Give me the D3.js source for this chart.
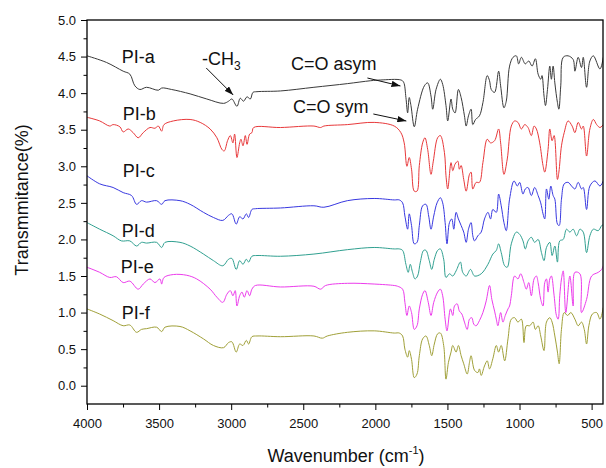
<!DOCTYPE html>
<html><head><meta charset="utf-8">
<script src="https://cdn.jsdelivr.net/npm/d3@7"></script>
<style>
body{margin:0;background:#fff}
text{font-family:Arial,"Liberation Sans",Helvetica,sans-serif}
</style></head>
<body><svg id="chart" width="606" height="468"></svg>
<script>
// ---- data: [wavenumber (cm-1), transmittance] ----
const piA = [[4000,4.51],[3865,4.42],[3749,4.30],[3703,4.26],[3668,4.10],[3633,4.05],[3587,4.08],[3505,4.04],[3482,4.07],[3413,4.05],[3285,3.99],[3169,3.92],[3053,3.86],[3018,3.89],[2995,3.92],[2960,3.82],[2937,3.93],[2914,3.89],[2890,3.95],[2867,3.92],[2849,4.01],[2821,4.02],[2658,4.03],[2426,4.08],[2194,4.13],[2032,4.17],[1962,4.18],[1823,4.18],[1804,4.15],[1788,3.94],[1776,3.73],[1765,3.94],[1753,3.83],[1730,3.54],[1707,3.78],[1660,4.10],[1637,4.14],[1614,3.96],[1602,3.78],[1579,4.05],[1549,4.19],[1533,4.12],[1510,3.83],[1498,3.62],[1475,3.92],[1463,3.78],[1447,3.73],[1424,4.05],[1405,3.94],[1382,3.69],[1370,3.55],[1354,3.69],[1336,3.78],[1324,3.57],[1305,3.64],[1278,3.69],[1254,3.87],[1224,4.24],[1208,4.17],[1196,4.05],[1173,4.01],[1145,4.30],[1131,4.10],[1108,3.80],[1092,3.89],[1069,4.37],[1045,4.49],[1022,4.51],[1006,4.40],[987,4.49],[960,4.40],[936,4.44],[913,4.37],[890,4.47],[871,4.26],[853,4.19],[844,4.24],[830,3.96],[820,3.83],[806,4.05],[790,4.37],[779,4.19],[767,4.37],[755,4.14],[737,3.87],[727,3.78],[714,4.10],[697,4.49],[663,4.51],[628,4.46],[616,4.30],[593,4.49],[570,4.35],[558,4.49],[535,4.08],[512,4.44],[488,4.51],[442,4.33],[419,4.49]];

const piB = [[4000,3.67],[3912,3.62],[3842,3.55],[3819,3.57],[3772,3.54],[3749,3.47],[3714,3.51],[3680,3.46],[3645,3.39],[3610,3.46],[3563,3.53],[3529,3.52],[3505,3.55],[3482,3.48],[3466,3.57],[3401,3.62],[3285,3.64],[3215,3.60],[3146,3.51],[3099,3.39],[3064,3.23],[3048,3.21],[3025,3.35],[3006,3.42],[2988,3.32],[2976,3.44],[2960,3.12],[2941,3.32],[2932,3.37],[2918,3.28],[2902,3.42],[2890,3.30],[2872,3.44],[2856,3.46],[2844,3.53],[2658,3.53],[2426,3.55],[2380,3.53],[2357,3.55],[2194,3.57],[2008,3.60],[1869,3.55],[1823,3.46],[1800,3.32],[1781,3.00],[1765,3.12],[1749,2.96],[1730,2.66],[1711,2.66],[1695,3.01],[1672,3.32],[1656,3.39],[1637,3.23],[1614,2.89],[1598,3.07],[1568,3.39],[1549,3.42],[1521,3.19],[1510,2.87],[1498,2.69],[1475,3.05],[1463,2.94],[1447,3.03],[1428,3.07],[1417,2.96],[1405,3.01],[1387,2.82],[1370,2.66],[1347,2.89],[1336,2.92],[1324,2.69],[1301,2.78],[1278,2.78],[1254,3.05],[1224,3.37],[1201,3.32],[1173,3.35],[1145,3.51],[1131,3.32],[1108,2.89],[1085,3.10],[1057,3.55],[1034,3.62],[1011,3.60],[987,3.51],[964,3.57],[941,3.53],[918,3.42],[899,3.55],[883,3.51],[860,3.32],[837,3.01],[825,2.92],[802,3.23],[790,3.51],[774,3.35],[760,3.42],[737,2.82],[727,2.92],[709,3.28],[690,3.46],[663,3.62],[635,3.55],[616,3.46],[593,3.60],[570,3.51],[558,3.55],[535,3.14],[512,3.51],[488,3.64],[465,3.57],[442,3.53],[419,3.57]];

const piC = [[4000,2.87],[3912,2.76],[3819,2.71],[3749,2.64],[3691,2.60],[3656,2.48],[3622,2.53],[3587,2.51],[3517,2.53],[3482,2.48],[3459,2.53],[3355,2.53],[3285,2.48],[3192,2.37],[3123,2.30],[3058,2.26],[3018,2.33],[2995,2.35],[2965,2.21],[2941,2.31],[2918,2.28],[2895,2.35],[2879,2.30],[2856,2.41],[2832,2.42],[2658,2.43],[2426,2.46],[2357,2.44],[2194,2.53],[2008,2.56],[1869,2.54],[1834,2.54],[1811,2.50],[1795,2.32],[1776,2.14],[1765,2.35],[1749,2.19],[1730,1.94],[1711,1.96],[1695,2.19],[1672,2.46],[1649,2.48],[1630,2.32],[1614,2.14],[1595,2.32],[1572,2.50],[1549,2.57],[1533,2.50],[1516,2.23],[1503,1.94],[1486,2.23],[1470,2.28],[1456,2.14],[1440,2.37],[1424,2.28],[1405,2.19],[1387,2.10],[1370,1.96],[1354,2.14],[1336,2.23],[1324,2.05],[1312,1.98],[1289,2.05],[1266,2.10],[1243,2.28],[1219,2.37],[1201,2.28],[1185,2.41],[1161,2.37],[1145,2.62],[1127,2.46],[1108,2.23],[1092,2.12],[1069,2.55],[1038,2.80],[1015,2.73],[999,2.78],[976,2.62],[960,2.69],[941,2.71],[918,2.60],[895,2.71],[871,2.60],[853,2.50],[837,2.35],[825,2.28],[813,2.69],[797,2.55],[783,2.73],[767,2.60],[755,2.55],[737,2.21],[725,2.19],[709,2.55],[690,2.76],[663,2.78],[639,2.73],[616,2.69],[593,2.78],[570,2.69],[558,2.71],[535,2.41],[512,2.73],[477,2.80],[442,2.73],[419,2.80]];

const piD = [[4000,2.23],[3912,2.14],[3819,2.05],[3761,1.98],[3703,1.98],[3656,1.91],[3622,1.96],[3587,1.95],[3517,1.96],[3482,1.89],[3459,1.96],[3355,1.96],[3285,1.91],[3192,1.80],[3123,1.71],[3058,1.64],[3018,1.73],[2995,1.74],[2965,1.59],[2941,1.71],[2918,1.66],[2895,1.73],[2879,1.69],[2856,1.77],[2821,1.78],[2658,1.77],[2426,1.80],[2194,1.86],[2008,1.89],[1869,1.87],[1834,1.87],[1811,1.85],[1788,1.66],[1772,1.55],[1758,1.66],[1742,1.55],[1725,1.46],[1707,1.50],[1688,1.69],[1665,1.85],[1649,1.85],[1626,1.71],[1609,1.59],[1591,1.73],[1568,1.85],[1549,1.87],[1526,1.73],[1510,1.48],[1486,1.53],[1463,1.50],[1440,1.57],[1410,1.69],[1394,1.55],[1370,1.50],[1340,1.59],[1312,1.50],[1266,1.53],[1219,1.66],[1185,1.80],[1161,1.85],[1145,1.94],[1127,1.82],[1103,1.64],[1085,1.62],[1057,1.94],[1022,2.10],[999,2.07],[976,1.98],[960,1.87],[941,1.98],[918,2.03],[895,1.96],[871,2.00],[848,1.82],[830,1.71],[813,1.89],[790,1.96],[774,1.78],[755,1.91],[737,1.69],[721,1.98],[697,2.00],[674,2.14],[651,2.10],[628,2.14],[604,2.05],[581,2.14],[558,2.10],[535,1.82],[512,2.05],[488,2.14],[454,2.12],[430,2.19],[419,2.20]];

const piE = [[4000,1.62],[3912,1.55],[3842,1.48],[3796,1.49],[3749,1.41],[3703,1.43],[3645,1.32],[3610,1.39],[3563,1.46],[3529,1.41],[3494,1.46],[3482,1.39],[3466,1.48],[3401,1.52],[3308,1.51],[3239,1.46],[3146,1.32],[3099,1.21],[3058,1.14],[3030,1.25],[3006,1.30],[2988,1.23],[2972,1.30],[2960,1.09],[2941,1.23],[2925,1.28],[2909,1.21],[2890,1.30],[2872,1.23],[2856,1.32],[2832,1.37],[2658,1.35],[2426,1.36],[2380,1.32],[2345,1.37],[2194,1.40],[2008,1.39],[1869,1.37],[1846,1.36],[1811,1.32],[1795,1.14],[1781,0.96],[1765,1.09],[1749,1.00],[1730,0.77],[1711,0.82],[1695,1.05],[1672,1.25],[1656,1.30],[1633,1.14],[1614,0.96],[1595,1.14],[1568,1.28],[1549,1.32],[1533,1.23],[1516,0.91],[1503,0.75],[1479,1.05],[1463,0.96],[1451,1.09],[1433,1.12],[1417,1.02],[1400,0.98],[1382,0.87],[1363,0.77],[1347,0.91],[1331,0.93],[1317,0.84],[1301,0.82],[1278,0.89],[1254,1.00],[1231,1.16],[1208,1.37],[1192,1.18],[1173,1.02],[1161,0.91],[1150,0.82],[1131,1.00],[1115,0.87],[1099,0.96],[1080,1.05],[1069,1.09],[1057,1.23],[1034,1.50],[1011,1.46],[992,1.53],[969,1.41],[953,1.32],[936,1.41],[918,1.23],[899,1.46],[883,1.50],[871,1.41],[853,1.18],[837,1.09],[825,1.41],[813,1.46],[802,1.28],[790,1.46],[779,1.50],[760,1.23],[744,0.96],[732,0.91],[721,1.23],[709,1.46],[697,1.57],[679,1.00],[651,1.50],[628,1.09],[616,1.55],[581,1.53],[570,1.00],[535,1.18],[500,1.50],[454,1.55],[430,1.59],[412,1.68]];

const piF = [[4000,1.05],[3912,0.98],[3819,0.89],[3749,0.82],[3703,0.83],[3656,0.73],[3622,0.77],[3587,0.78],[3517,0.80],[3482,0.74],[3459,0.80],[3355,0.81],[3285,0.75],[3192,0.64],[3123,0.55],[3053,0.52],[3018,0.59],[2995,0.60],[2965,0.46],[2941,0.57],[2918,0.55],[2895,0.62],[2879,0.57],[2856,0.67],[2821,0.68],[2658,0.67],[2426,0.68],[2368,0.65],[2333,0.68],[2194,0.73],[2008,0.75],[1869,0.72],[1834,0.72],[1811,0.68],[1795,0.50],[1776,0.39],[1765,0.48],[1749,0.36],[1730,0.11],[1711,0.16],[1695,0.41],[1672,0.64],[1649,0.68],[1626,0.55],[1609,0.41],[1591,0.57],[1568,0.71],[1549,0.72],[1526,0.55],[1510,0.09],[1493,0.32],[1475,0.46],[1463,0.55],[1440,0.46],[1424,0.55],[1405,0.41],[1387,0.30],[1363,0.16],[1347,0.32],[1336,0.41],[1312,0.21],[1289,0.18],[1278,0.23],[1266,0.14],[1243,0.27],[1224,0.34],[1208,0.23],[1185,0.37],[1161,0.55],[1145,0.46],[1127,0.55],[1103,0.34],[1080,0.64],[1057,0.91],[1034,0.93],[1011,0.87],[987,0.91],[969,0.59],[953,0.82],[929,0.82],[906,0.87],[890,0.77],[871,0.82],[853,0.68],[830,0.48],[813,0.87],[790,0.93],[774,0.87],[755,0.68],[737,0.46],[725,0.30],[709,0.77],[690,1.00],[667,0.96],[644,1.00],[616,0.91],[593,0.82],[570,0.87],[551,0.77],[535,0.57],[519,0.82],[495,0.98],[465,1.00],[442,0.91],[419,1.07]];

const seriesNames = ["PI-a","PI-b","PI-c","PI-d","PI-e","PI-f"];
const seriesData = [piA, piB, piC, piD, piE, piF];
const seriesColors = ["#3a3a3a","#e8383a","#3838e0","#30a090","#ec3cec","#a0a038"];

const xTicks = [4000,3500,3000,2500,2000,1500,1000,500];
const xMinorTicks = [3750,3250,2750,2250,1750,1250,750];
const yTicks = [0,0.5,1,1.5,2,2.5,3,3.5,4,4.5,5];
const yMinorTicks = [0.25,0.75,1.25,1.75,2.25,2.75,3.25,3.75,4.25,4.75];

const xTitle = "Wavenumber (cm";
const yTitle = "Transmmitance(%)";

// ---- layout ----
const svg = d3.select("#chart");
const L = 87, R = 603, T = 20, B = 404;
const x = d3.scaleLinear().domain([4000, 421]).range([L, R]);
const y = d3.scaleLinear().domain([-0.25, 5]).range([B, T]);

svg.append("rect").attr("width",606).attr("height",468).attr("fill","#fff");

svg.append("defs").append("clipPath").attr("id","clip")
  .append("rect").attr("x",L).attr("y",T).attr("width",R-L).attr("height",B-T);

// curves
const line = d3.line().x(d => x(d[0])).y(d => y(d[1])).curve(d3.curveCatmullRom.alpha(0.5));
const g = svg.append("g").attr("clip-path","url(#clip)");
seriesData.forEach((s,i) => {
  g.append("path").datum(s).attr("d", line)
    .attr("fill","none").attr("stroke", seriesColors[i])
    .attr("stroke-width",1).attr("stroke-linejoin","round");
});

// axes
const fmtY = d3.format(".1f");
svg.append("g").attr("transform",`translate(0,${B})`)
  .call(d3.axisBottom(x).tickValues(xTicks).tickSize(6).tickPadding(9).tickSizeOuter(0).tickFormat(d3.format("d")));
svg.append("g").attr("transform",`translate(0,${B})`)
  .call(d3.axisBottom(x).tickValues(xMinorTicks).tickSize(3.5).tickSizeOuter(0).tickFormat(""));
svg.append("g").attr("transform",`translate(${L},0)`)
  .call(d3.axisLeft(y).tickValues(yTicks).tickSize(6).tickPadding(5).tickSizeOuter(0).tickFormat(fmtY));
svg.append("g").attr("transform",`translate(${L},0)`)
  .call(d3.axisLeft(y).tickValues(yMinorTicks).tickSize(3.5).tickSizeOuter(0).tickFormat(""));
svg.selectAll(".tick text").attr("font-size",13).attr("fill","#111")
  .style("font-family",'Arial,"Liberation Sans",sans-serif');
svg.selectAll(".tick line").attr("stroke","#000").attr("stroke-width",1);
svg.selectAll(".domain").attr("stroke","none");

// frame
svg.append("rect").attr("x",L).attr("y",T).attr("width",R-L).attr("height",B-T)
  .attr("fill","none").attr("stroke","#000").attr("stroke-width",1.3);

// axis titles
const xt = svg.append("text").attr("x",346).attr("y",462).attr("text-anchor","middle")
  .attr("font-size",18).attr("fill","#111");
xt.append("tspan").text(xTitle);
xt.append("tspan").text("-1").attr("font-size",11).attr("dy",-8);
xt.append("tspan").text(")").attr("dy",8);
svg.append("text").attr("transform","translate(28,200) rotate(-90)").attr("text-anchor","middle")
  .attr("font-size",18).attr("fill","#111").text(yTitle);

// series labels (anchored in data space)
const labelPos = [[3759,4.41],[3752,3.63],[3752,2.86],[3759,2.04],[3766,1.54],[3759,0.91]];
seriesNames.forEach((n,i) => {
  svg.append("text").attr("x",x(labelPos[i][0])).attr("y",y(labelPos[i][1]))
    .attr("font-size",18).attr("fill","#111").text(n);
});

// annotations
const defs = svg.select("defs");
defs.append("marker").attr("id","arr").attr("viewBox","0 0 10 7").attr("refX",10).attr("refY",3.5)
  .attr("markerWidth",9).attr("markerHeight",6.3).attr("markerUnits","userSpaceOnUse").attr("orient","auto")
  .append("path").attr("d","M0,0L10,3.5L0,7Z").attr("fill","#111");

const ch = svg.append("text").attr("x",x(3203)).attr("y",y(4.385)).attr("font-size",18).attr("fill","#111");
ch.append("tspan").text("-CH");
ch.append("tspan").text("3").attr("font-size",12).attr("dy",5);
svg.append("text").attr("x",x(2585)).attr("y",y(4.317)).attr("font-size",18).attr("fill","#111").text("C=O asym");
svg.append("text").attr("x",x(2571)).attr("y",y(3.725)).attr("font-size",18).attr("fill","#111").text("C=O sym");

const arrows = [[[3173,4.344],[2986,3.975]],[[2055,4.207],[1826,4.098]],[[2014,3.715],[1785,3.619]]];
arrows.forEach(a => {
  svg.append("line").attr("x1",x(a[0][0])).attr("y1",y(a[0][1]))
    .attr("x2",x(a[1][0])).attr("y2",y(a[1][1]))
    .attr("stroke","#111").attr("stroke-width",1).attr("marker-end","url(#arr)");
});
</script></body></html>
